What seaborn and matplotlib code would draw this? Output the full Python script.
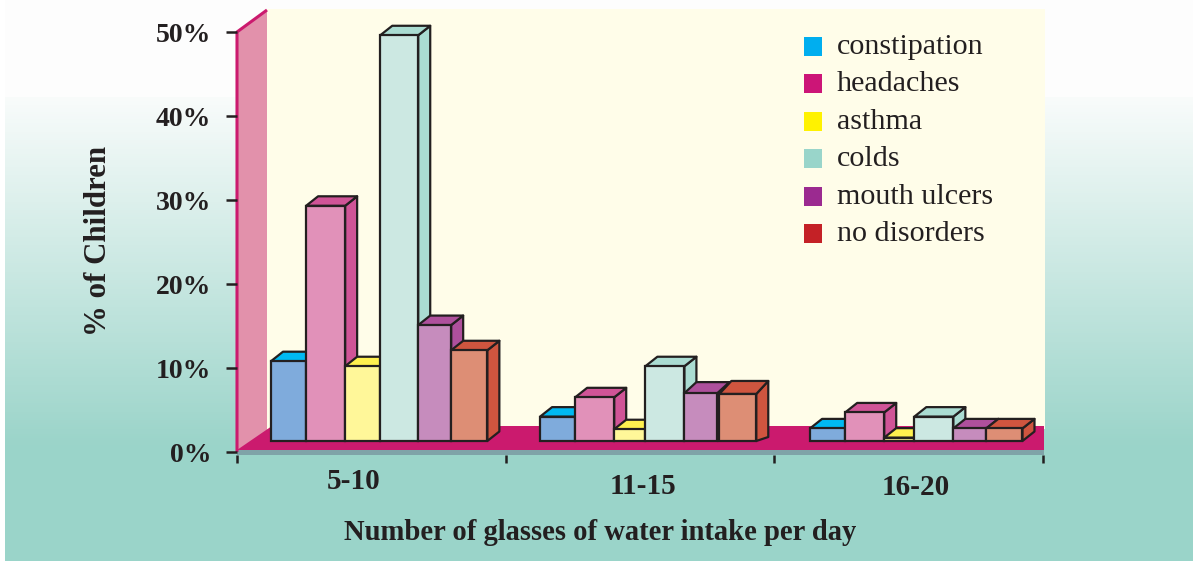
import numpy as np
import pandas as pd
import matplotlib
matplotlib.use('Agg')
import matplotlib.pyplot as plt
from matplotlib.patches import Polygon, Patch, Rectangle
from matplotlib.colors import LinearSegmentedColormap
import seaborn as sns

groups = ['5-10', '11-15', '16-20']
disorders = ['constipation', 'headaches', 'asthma', 'colds', 'mouth ulcers', 'no disorders']

# height of each bar front, in % on the axis scale
constipation = [9.5, 2.9, 1.5]
headaches = [28.0, 5.2, 3.4]
asthma = [8.9, 1.4, 0.4]
colds = [48.3, 8.9, 2.9]
mouth_ulcers = [13.8, 5.7, 1.5]
no_disorders = [10.8, 5.6, 1.5]
series = [constipation, headaches, asthma, colds, mouth_ulcers, no_disorders]

y_ticks = [0, 10, 20, 30, 40, 50]

legend_colors = ['#00aeef', '#cc1577', '#fff200', '#99d5ca', '#9b2a90', '#c42126']
front_colors = ['#7fabdc', '#e191b9', '#fff799', '#cce8e2', '#c68cbd', '#dd8e75']
top_colors = ['#00b9f2', '#d05497', '#fff14f', '#aadcd2', '#ae509c', '#cf553f']

# bars are not all the same width in the original
width_scale = [[.98, 1.09, .98, 1.06, .92, 1.01],
               [.98, 1.09, .87, 1.09, .92, 1.03],
               [.98, 1.09, .84, 1.09, .92, 1.01]]
group_shift = [.0265, .028, .033]
floor_lift = 1.31
depth_px = (12, 9.5)
# the hand drawn no disorders bar in the middle group sits apart and deeper
odd_bars = {(1, 4): dict(gap=0, top=11, base=9.5), (1, 5): dict(gap=2, top=13, base=4)}

df = pd.DataFrame({
    'group': np.repeat(groups, len(disorders)),
    'disorder': disorders * len(groups),
    'value': [series[d][g] for g in range(len(groups)) for d in range(len(disorders))],
})

W, H = 1195, 561
plt.rcParams['font.family'] = ['Liberation Serif', 'DejaVu Serif']
ink = '#231f20'

fig = plt.figure(figsize=(W / 100, H / 100), dpi=100)

# background layer in pixel coordinates
bg = fig.add_axes([0, 0, 1, 1], zorder=0)
fade = LinearSegmentedColormap.from_list('fade', [(0, '#fdfdfd'), (.17, '#fdfdfd'), (.172, '#f9fcfb'), (.8, '#9ad4c9'), (1, '#9ad4c9')])
bg.imshow(np.linspace(0, 1, H)[:, None], cmap=fade, extent=(5, 1193, H, 0), aspect='auto', vmin=0, vmax=1)
bg.set_xlim(0, W)
bg.set_ylim(H, 0)
bg.axis('off')
bg.add_patch(Rectangle((267, 9), 778, 420, color='#fffde9', lw=0))
bg.add_patch(Polygon([(237, 32), (267, 10), (267, 435), (237, 452)], color='#e291ab', lw=0))
bg.add_patch(Polygon([(237, 450), (272, 426), (1044, 426), (1044, 450)], color='#cb1a6e', lw=0))
bg.add_patch(Rectangle((237, 450), 807, 5, color='#7fa3a8', lw=0))
bg.plot([267, 237, 237], [10, 32, 452], color='#cb1a6e', lw=2.2, solid_capstyle='butt')

ax = fig.add_axes([237 / W, 1 - 452 / H, 806 / W, 420 / H], zorder=1)
ax.patch.set_alpha(0)

sns.barplot(data=df, x='group', y='value', hue='disorder', palette=front_colors, hue_order=disorders,
            order=groups, errorbar=None, legend=False, bottom=floor_lift, saturation=1,
            edgecolor=ink, linewidth=1.6, ax=ax)

ax.set_xlim(-.5, 2.5)
ax.set_ylim(0, 50)

# seaborn gives equal bars, spread them out like the original and add the 3d faces
x_per_px = 3 / 806
y_per_px = 50 / 420
dx = depth_px[0] * x_per_px
for g in range(len(groups)):
    left = ax.containers[0][g].get_x() + group_shift[g]
    for d in range(len(disorders)):
        bar = ax.containers[d][g]
        odd = odd_bars.get((g, d), dict(gap=0, top=depth_px[1], base=depth_px[1]))
        left += odd['gap'] * x_per_px
        w = bar.get_width() * width_scale[g][d]
        bar.set_x(left)
        bar.set_width(w)
        bar.set_zorder(3 + d + .5)
        top = bar.get_y() + bar.get_height()
        base = bar.get_y()
        right = left + w
        dy = odd['top'] * y_per_px
        top_face = [(left, top), (left + dx, top + dy), (right + dx, top + dy), (right, top)]
        side_face = [(right, top), (right + dx, top + dy), (right + dx, base + odd['base'] * y_per_px), (right, base)]
        for face in (side_face, top_face):
            ax.add_patch(Polygon(face, closed=True, facecolor=top_colors[d], edgecolor=ink, lw=1.6,
                                 joinstyle='round', zorder=3 + d, clip_on=False))
        left = right

sns.despine(ax=ax, left=True, bottom=True)
ax.spines['bottom'].set_position(('outward', 2.2))
ax.set_yticks(y_ticks, [f'{t}%' for t in y_ticks])
ax.set_xticks([-.5, .5, 1.5, 2.5], [])
ax.tick_params(axis='y', length=8, width=1.8, color=ink, pad=10.5, labelsize=20, labelcolor=ink)
ax.tick_params(axis='x', length=6, width=1.8, color=ink)
for lab in ax.get_yticklabels():
    lab.set_fontweight('bold')

ax.set_xlabel('Number of glasses of water intake per day', fontsize=20.6, fontweight='bold', color=ink)
ax.xaxis.set_label_coords((600 - 237) / 806, -(532 - 452) / 420)
ax.xaxis.label.set_va('center')
ax.set_ylabel('% of Children', fontsize=22.2, fontweight='bold', color=ink)
ax.yaxis.set_label_coords((98 - 237) / 806, (452 - 241) / 420)
ax.yaxis.label.set_va('center')

label_px = [(354, 481), (643, 486), (916, 487)]
for name, (px, py) in zip(groups, label_px):
    bg.text(px, py, name, fontsize=21, fontweight='bold', color=ink, ha='center', va='center')

handles = [Patch(facecolor=c, lw=0) for c in legend_colors]
leg = ax.legend(handles, disorders, loc='upper left', bbox_to_anchor=((804 - 237) / 806, .989), frameon=False,
                fontsize=21.6, labelcolor=ink, handlelength=.6, handleheight=.6, handletextpad=.5,
                labelspacing=.38, borderpad=0, borderaxespad=0)
# text sits a little higher against the swatches in the original
for t in leg.get_texts():
    t.set_position((0, 3))

fig.savefig('out.png', dpi=100)
